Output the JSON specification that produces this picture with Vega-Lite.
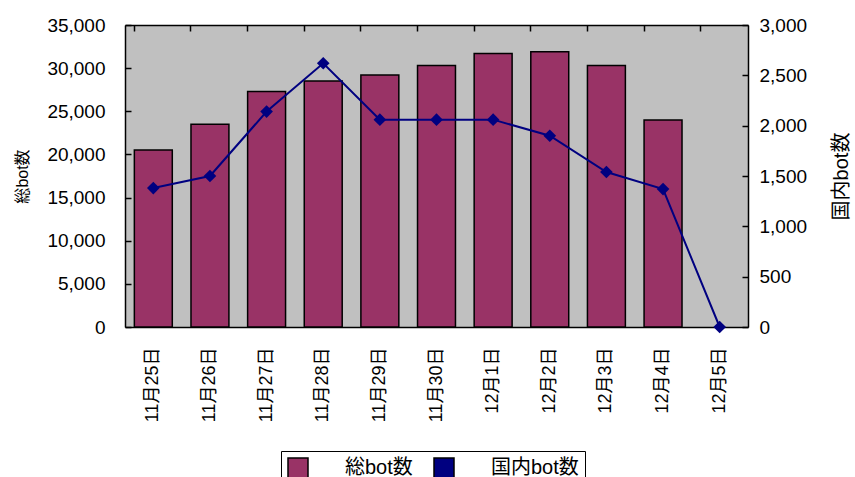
{
  "$schema": "https://vega.github.io/schema/vega-lite/v6.json",
  "autosize": {"type": "none"},
  "width": 623,
  "height": 302,
  "padding": {"left": 125, "top": 25, "right": 107, "bottom": 150},
  "background": "white",
  "config": {
    "font": "Liberation Sans, Noto Sans CJK JP",
    "view": {"fill": "#C0C0C0", "stroke": "#D8D8D8"},
    "axis": {"labelFont": "Liberation Sans, Noto Sans CJK JP", "titleFont": "Liberation Sans, Noto Sans CJK JP", "labelColor": "black", "titleColor": "black", "domainColor": "black", "tickColor": "black", "labelFontSize": 19, "titleFontSize": 17, "titleFontWeight": "normal", "grid": false, "domainWidth": 1.5, "tickWidth": 1.5}
  },
  "data": {"values": [
    {"date": "11月25日", "total": 20500, "domestic": 1380},
    {"date": "11月26日", "total": 23500, "domestic": 1500},
    {"date": "11月27日", "total": 27300, "domestic": 2140},
    {"date": "11月28日", "total": 28500, "domestic": 2620},
    {"date": "11月29日", "total": 29200, "domestic": 2060},
    {"date": "11月30日", "total": 30300, "domestic": 2060},
    {"date": "12月1日", "total": 31700, "domestic": 2060},
    {"date": "12月2日", "total": 31900, "domestic": 1900},
    {"date": "12月3日", "total": 30300, "domestic": 1540},
    {"date": "12月4日", "total": 24000, "domestic": 1370},
    {"date": "12月5日", "total": null, "domestic": 0}
  ]},
  "encoding": {
    "x": {"field": "date", "type": "nominal", "sort": null, "scale": {"paddingInner": 0.33, "paddingOuter": 0.165}}
  },
  "layer": [
    {
      "mark": {"type": "bar", "stroke": "black", "strokeWidth": 1.5},
      "encoding": {
        "x": {"field": "date", "type": "nominal", "sort": null, "axis": {"title": null, "labelAngle": -90, "labelAlign": "right", "labelBaseline": "middle", "labelPadding": 20, "labelFontSize": 18, "ticks": false, "domain": true}},
        "y": {"field": "total", "type": "quantitative", "scale": {"domain": [0, 35000]}, "axis": {"title": "総bot数", "titleFontSize": 16, "values": [0, 5000, 10000, 15000, 20000, 25000, 30000, 35000], "format": ",.0f", "tickSize": -6, "labelPadding": 26, "titlePadding": 16}},
        "color": {"datum": "総bot数", "type": "nominal", "scale": {"domain": ["総bot数", "国内bot数"], "range": ["#993366", "#000080"]},
          "legend": {"orient": "none", "legendX": 156, "legendY": 426, "direction": "horizontal", "title": null, "strokeColor": "black", "fillColor": "white", "padding": 6, "labelFontSize": 20, "labelFont": "Liberation Sans, Noto Sans CJK JP", "labelColor": "black", "symbolSize": 400, "columnPadding": 18, "labelOffset": 36}
        }
      }
    },
    {
      "layer": [
        {
          "mark": {"type": "line", "color": "#000080", "strokeWidth": 2},
          "encoding": {
            "x": {"field": "date", "type": "nominal", "sort": null, "axis": {"title": null, "labels": false, "ticks": true, "tickSize": -6, "bandPosition": 0, "domain": true}},
            "y": {"field": "domestic", "type": "quantitative", "scale": {"domain": [0, 3000]}, "axis": {"orient": "right", "title": "国内bot数", "titleAngle": -90, "titleFontSize": 20, "values": [0, 500, 1000, 1500, 2000, 2500, 3000], "format": ",.0f", "tickSize": -6, "labelPadding": 17, "titlePadding": 45}}
          }
        },
        {
          "mark": {"type": "point", "shape": "diamond", "filled": true, "size": 160, "opacity": 1},
          "encoding": {
            "x": {"field": "date", "type": "nominal", "sort": null},
            "y": {"field": "domestic", "type": "quantitative"},
            "color": {"datum": "国内bot数", "type": "nominal",
              "legend": {"orient": "none", "legendX": 156, "legendY": 426, "direction": "horizontal", "title": null, "strokeColor": "black", "fillColor": "white", "padding": 6, "labelFontSize": 20, "labelFont": "Liberation Sans, Noto Sans CJK JP", "labelColor": "black", "symbolSize": 400, "columnPadding": 18, "labelOffset": 36,
                "encode": {"symbols": {
                  "shape": {"value": {"expr": "datum.value === '総bot数' ? 'M-1,-0.5H3.9V0.5H-1Z' : 'M-1,0H4M1.5,-0.65L2.15,0L1.5,0.65L0.85,0Z'"}},
                  "fill": {"value": {"expr": "datum.value === '総bot数' ? '#993366' : '#000080'"}},
                  "stroke": {"value": {"expr": "datum.value === '総bot数' ? '#000000' : '#000080'"}},
                  "strokeWidth": {"value": 1.5},
                  "opacity": {"value": 1}
                }}}
            }
          }
        }
      ]
    }
  ],
  "resolve": {"scale": {"y": "independent"}, "axis": {"x": "independent"}}
}
